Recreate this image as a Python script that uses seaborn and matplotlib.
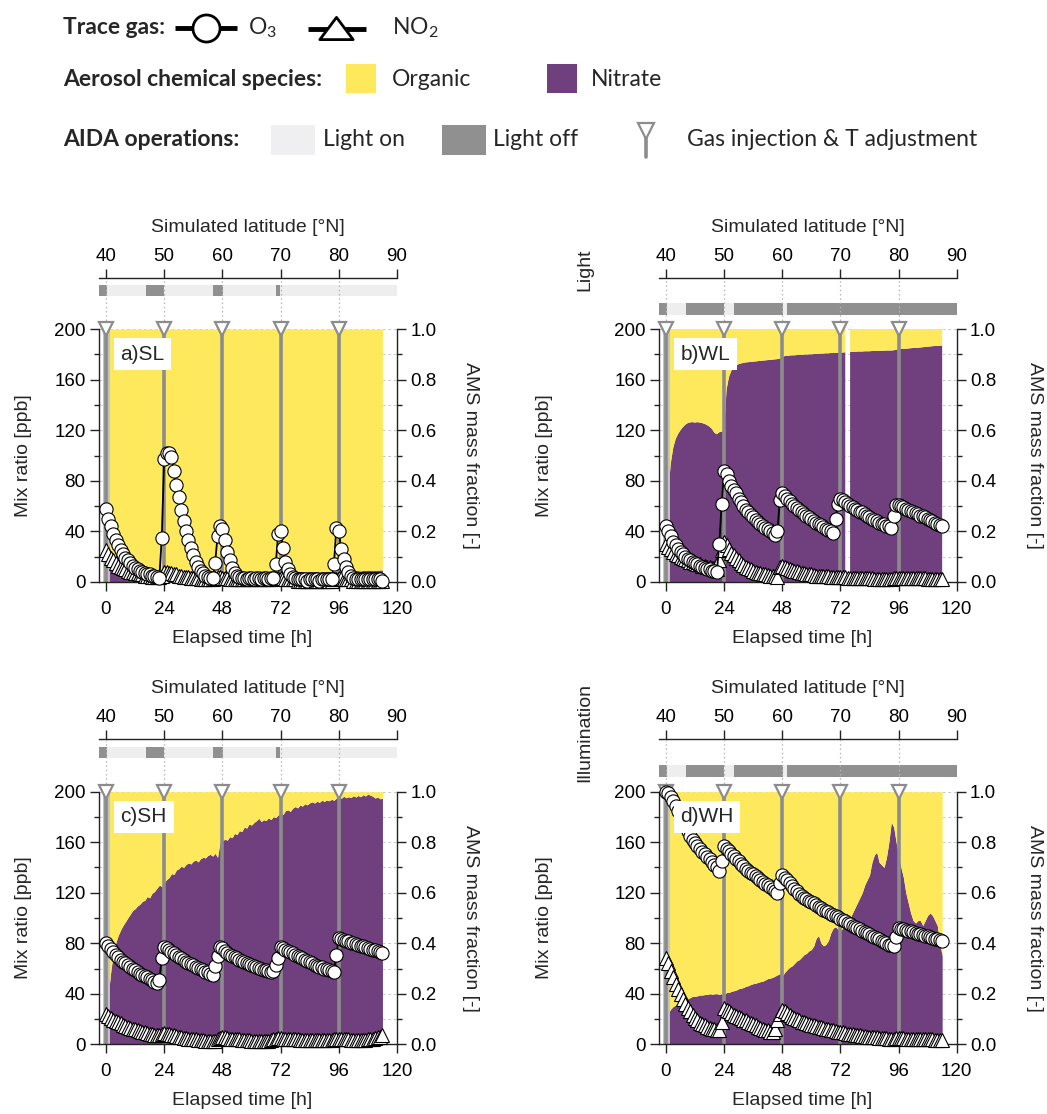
import numpy as np
import matplotlib
matplotlib.use("Agg")
import matplotlib.pyplot as plt
import seaborn as sns
from matplotlib.patches import Rectangle
from matplotlib.ticker import MultipleLocator, FormatStrFormatter
from matplotlib.path import Path

# ---------------------------------------------------------------- data
# hourly trace-gas records (elapsed time 0 ... 114 h)
t_gas = list(range(0, 115))

o3_SL = [58, 50, 44, 38, 33, 29, 25, 22, 19, 17, 15, 13, 11, 10, 9, 8, 7, 6, 6, 5, 5, 4, 3,
         35, 97, 102, 102, 99, 88, 77, 67, 57, 48, 40, 33, 27, 21, 16, 12, 9, 7, 5, 4, 3, 3,
         15, 36, 44, 42, 33, 24, 17, 11, 7, 5, 4, 3,
         3, 2, 3, 3, 2, 3, 3, 2, 3, 3, 2, 3, 3,
         14, 38, 40, 27, 16, 10, 6, 4, 3,
         2, 2, 2, 2, 1, 2, 2, 2, 2, 1, 2, 2, 2, 2, 2,
         14, 43, 40, 26, 18, 12, 8, 5, 3,
         2, 2, 2, 2, 2, 2, 2, 2, 2, 2, 2, 1]
no2_SL = [25, 22, 19, 17, 15, 13, 12, 11, 10, 9,
          8, 8, 7, 7, 6, 6, 5, 5, 5, 4,
          4, 4, 4, 5, 8, 8, 7, 7, 6, 6,
          5, 5, 4, 4, 4, 3, 3, 3, 3, 2,
          2, 2, 2, 2, 2, 3, 4, 4, 3, 3,
          3, 2, 2, 2, 2, 2, 2, 2, 2, 2,
          2, 2, 2, 2, 2, 2, 2, 2, 2, 2,
          3, 3, 3, 3, 2, 2, 2, 2, 2, 1,
          1, 1, 1, 1, 1, 1, 1, 1, 1, 1,
          1, 1, 1, 1, 2, 2, 3, 3, 2, 2,
          2, 2, 1, 1, 1, 1, 1, 1, 1, 1,
          1, 1, 1, 1, 1]

o3_WL = [44, 40, 36, 32, 29, 26, 24, 22, 20, 18,
         17, 16, 15, 14, 13, 12, 11, 10, 10, 9,
         8.5, 8, 30, 62, 88, 85, 80, 76, 73, 70,
         66, 63, 60, 57, 55, 53, 51, 49, 47.5, 46,
         44.5, 43, 42, 40.5, 39, 37, 40, 65, 70, 68,
         66, 64, 62, 60, 58.5, 57, 55.5, 54, 52.5, 51,
         50, 48.5, 47, 46, 45, 43.5, 42, 41, 40, 39,
         50, 62, 66, 65, 63, 61.5, 60, 59, 58, 57,
         55.5, 55, 54, 52.5, 51, 50, 49, 48, 47, 46,
         45.5, 44.5, 44, 43, 52, 61, 61, 60, 59, 58,
         57, 56.5, 55.5, 54.5, 53.5, 52.5, 52, 51, 50, 49,
         48, 47, 46, 45, 44]
no2_WL = [30, 28, 26, 24, 22, 21, 20, 19, 18, 17,
          16, 15.5, 15, 14, 14, 13, 13, 12, 12, 11,
          11, 10, 17, 25, 32, 29, 26, 23, 21, 19,
          17, 15, 13.5, 12, 11, 10, 9, 8, 7.5, 7,
          6.5, 6, 5.5, 5, 5, 4.5, 4, 12, 13, 12,
          11, 10, 9.5, 9, 8.5, 8, 7.5, 7, 6.5, 6,
          6, 5.5, 5, 5, 5, 4.5, 4.5, 4.5, 4, 4,
          4, 4, 4, 4, 4, 3.5, 3.5, 3.5, 3.5, 3,
          3, 3, 3, 3, 3, 3, 2.5, 2.5, 2.5, 2.5,
          2.5, 2.5, 2.5, 2.5, 3, 3, 3.5, 3.5, 3.5, 3.5,
          3, 3, 3, 3, 3, 3, 3, 3, 2.5, 2.5,
          2.5, 2.5, 2.5, 2.5, 2.5]

o3_SH = [80, 78, 75.5, 73, 71, 69, 67, 65.5, 64, 62.5,
         61, 59.5, 58.5, 57.5, 56, 55, 54, 53, 52, 51,
         49.5, 48.5, 51, 68, 77, 76, 75, 73, 72, 70.5,
         69, 68, 66.5, 65.5, 64.5, 63.5, 62.5, 61.5, 60.5, 59.5,
         58.5, 57.5, 57, 56, 55, 62, 70, 77, 76, 74,
         72.5, 71, 70, 69, 68, 67, 66, 65, 64, 63.5,
         63, 62, 61, 60.5, 60, 59, 58.5, 58, 57.5, 58,
         63, 68, 77, 76, 75, 74, 73, 72, 71, 70,
         69, 68, 67, 66, 65, 64, 63, 62, 61.5, 61,
         60, 59.5, 58.5, 58, 57.5, 71, 84, 83.5, 82.5, 82,
         81.5, 80.5, 80, 79.5, 79, 78, 77.5, 77, 76, 75.5,
         75, 74.5, 73.5, 73, 72.5]
no2_SH = [24, 22.5, 21, 19.5, 18.5, 17.5, 16.5, 15.5, 14.5, 14,
          13, 12.5, 12, 11, 10.5, 10, 9.5, 9, 8.5, 8,
          7.5, 7, 7, 8, 9, 8.5, 8, 7.5, 7, 6.5,
          6, 5.5, 5, 5, 4.5, 4, 4, 4, 3.5, 3.5,
          3.5, 3, 3, 3, 3, 3, 4, 5, 6, 5.5,
          5, 4.5, 4.5, 4, 4, 4, 3.5, 3.5, 3.5, 3.5,
          3, 3, 3, 3, 3, 3, 3, 3, 3.5, 4,
          4.5, 5, 5, 4.5, 4.5, 4, 4, 4, 4, 4,
          3.5, 3.5, 3.5, 3.5, 3.5, 3.5, 3.5, 3.5, 3.5, 3.5,
          3.5, 3.5, 3.5, 3.5, 4, 4.5, 4.5, 4.5, 4, 4,
          4, 3.5, 3.5, 3.5, 3.5, 3.5, 3.5, 3.5, 4, 4,
          4.5, 5, 5.5, 6, 7]

o3_WH = [200, 199, 196, 193, 189, 185, 181, 177, 173, 169,
         165, 162, 159, 157, 155, 152.5, 150.5, 148.5, 146.5, 144.5,
         142, 140, 137, 145, 157, 155, 153, 151, 149, 147,
         145, 143, 141, 139, 137.5, 136, 134.5, 133, 131.5, 130,
         128.5, 127, 126, 124.5, 123, 121.5, 120, 128, 134, 132,
         130, 127.5, 125, 123, 121, 119, 117.5, 116, 115, 113.5,
         112.5, 111.5, 110, 109, 108, 106.5, 105.5, 104.5, 103.5, 102.5,
         101.5, 100.5, 99.5, 98.5, 97.5, 96, 95, 94, 93, 92,
         91, 90, 89, 88, 87, 86, 85, 84, 83, 82,
         81, 80, 79, 78.5, 78, 85, 92, 91.5, 91, 90.5,
         90, 89.5, 89, 88, 87.5, 87, 86.5, 86, 85.5, 85,
         84.5, 83.5, 83, 82.5, 82]
no2_WH = [68, 64, 58, 53, 48, 44, 40, 36, 32, 29,
          26, 23, 21, 19, 17, 16, 15, 14, 13, 12.5,
          12, 11.5, 11, 18, 28.5, 27, 26, 24.5, 23.5, 22.5,
          21.5, 20.5, 19.5, 19, 18, 17, 16, 15, 14, 13,
          12.5, 11.5, 11, 10, 9.5, 12.5, 19, 24, 27, 26,
          24.5, 23, 22, 21, 20, 19, 18, 17.5, 16.5, 16,
          15.5, 15, 14.5, 14, 13.5, 13, 12.5, 12, 11.5, 11,
          10.5, 10, 9.5, 9.5, 9, 8.5, 8.5, 8, 7.5, 7,
          7, 6.5, 6.5, 6, 6, 5.5, 5.5, 5.5, 5, 5,
          5, 5, 4.5, 4.5, 4.5, 5, 5, 5, 5, 4.5,
          4.5, 4.5, 4.5, 4.5, 4, 4, 4, 4, 4, 4,
          4, 3.5, 3.5, 3.5, 3.5]

# hourly AMS nitrate mass fraction (elapsed time 1 ... 114 h); organic = remainder
t_ams = list(range(1, 115))
nan = float("nan")
nit_SL = [0.080, 0.072, 0.065, 0.060, 0.056, 0.052, 0.050, 0.048, 0.046, 0.045,
          0.044, 0.043, 0.042, 0.041, 0.040, 0.040, 0.039, 0.039, 0.038, 0.038,
          0.037, 0.037, 0.036, 0.040, 0.044, 0.043, 0.045, 0.044, 0.043, 0.045,
          0.044, 0.042, 0.043, 0.045, 0.044, 0.043, 0.042, 0.044, 0.043, 0.041,
          0.042, 0.043, 0.041, 0.042, 0.040, 0.041, 0.043, 0.044, 0.042, 0.041,
          0.040, 0.041, 0.042, 0.040, 0.039, 0.041, 0.040, 0.042, 0.041, 0.040,
          0.039, 0.041, 0.040, 0.042, 0.041, 0.040, 0.041, 0.039, 0.040, 0.041,
          0.043, 0.045, 0.044, 0.046, 0.045, 0.044, 0.043, 0.042, 0.041, 0.042,
          0.041, 0.040, 0.042, 0.041, 0.040, 0.041, 0.042, 0.040, 0.041, 0.040,
          0.041, 0.042, 0.040, 0.041, 0.043, 0.045, 0.044, 0.043, 0.044, 0.045,
          0.044, 0.045, 0.046, 0.045, 0.044, 0.046, 0.045, 0.047, 0.046, 0.045,
          0.047, 0.046, 0.048, 0.047]
nit_WL = [0.36, 0.47, 0.53, 0.565, 0.585, 0.600, 0.612, 0.622, 0.628, 0.631,
          0.632, 0.630, 0.632, 0.630, 0.628, 0.625, 0.620, 0.614, 0.605, 0.590,
          0.584, 0.592, 0.594, 0.600, 0.760, 0.810, 0.835, 0.848, 0.856, 0.861,
          0.864, 0.866, 0.868, 0.869, 0.870, 0.871, 0.872, 0.873, 0.874, 0.875,
          0.876, 0.877, 0.878, 0.879, 0.880, 0.881, 0.883, 0.888, 0.893, 0.894,
          0.895, 0.896, 0.896, 0.897, 0.898, 0.898, 0.899, 0.899, 0.900, 0.900,
          0.901, 0.902, 0.902, 0.903, 0.903, 0.904, 0.904, 0.905, 0.905, 0.906,
          0.906, 0.907, 0.907, 0.908, nan, 0.909, 0.910, 0.910, 0.911, 0.911,
          0.911, 0.912, 0.912, 0.912, 0.913, 0.913, 0.913, 0.914, 0.914, 0.914,
          0.915, 0.915, 0.915, 0.916, 0.918, 0.920, 0.921, 0.922, 0.922, 0.923,
          0.924, 0.925, 0.926, 0.926, 0.927, 0.928, 0.929, 0.930, 0.931, 0.932,
          0.933, 0.933, 0.934, 0.935]
nit_SH = [0.20, 0.29, 0.36, 0.40, 0.43, 0.452, 0.47, 0.485, 0.50, 0.515,
          0.53, 0.537, 0.548, 0.555, 0.566, 0.57, 0.585, 0.58, 0.598, 0.605,
          0.618, 0.63, 0.625, 0.64, 0.652, 0.66, 0.676, 0.672, 0.69, 0.695,
          0.705, 0.70, 0.712, 0.718, 0.714, 0.725, 0.73, 0.722, 0.735, 0.74,
          0.738, 0.748, 0.752, 0.745, 0.756, 0.74, 0.80, 0.805, 0.812, 0.808,
          0.822, 0.818, 0.835, 0.83, 0.846, 0.842, 0.86, 0.856, 0.872, 0.868,
          0.878, 0.885, 0.895, 0.882, 0.889, 0.886, 0.896, 0.89, 0.901, 0.898,
          0.908, 0.914, 0.91, 0.925, 0.928, 0.922, 0.935, 0.941, 0.936, 0.947,
          0.943, 0.952, 0.948, 0.956, 0.96, 0.955, 0.962, 0.958, 0.966, 0.962,
          0.967, 0.964, 0.97, 0.966, 0.975, 0.98, 0.974, 0.982, 0.976, 0.98,
          0.977, 0.984, 0.979, 0.985, 0.98, 0.988, 0.983, 0.991, 0.986, 0.982,
          0.975, 0.979, 0.972, 0.974]
nit_WH = [0.125, 0.14, 0.15, 0.155, 0.16, 0.165, 0.17, 0.175, 0.18, 0.185,
          0.19, 0.19, 0.192, 0.195, 0.195, 0.197, 0.197, 0.2, 0.198, 0.2,
          0.2, 0.198, 0.2, 0.196, 0.205, 0.205, 0.21, 0.212, 0.215, 0.22,
          0.222, 0.225, 0.23, 0.232, 0.237, 0.24, 0.242, 0.245, 0.248, 0.25,
          0.255, 0.26, 0.262, 0.265, 0.27, 0.275, 0.28, 0.27, 0.285, 0.295,
          0.305, 0.31, 0.32, 0.33, 0.335, 0.345, 0.355, 0.36, 0.37, 0.375,
          0.39, 0.42, 0.43, 0.40, 0.39, 0.395, 0.41, 0.44, 0.46, 0.465,
          0.455, 0.45, 0.46, 0.48, 0.49, 0.50, 0.52, 0.54, 0.56, 0.58,
          0.60, 0.63, 0.65, 0.67, 0.72, 0.75, 0.76, 0.72, 0.71, 0.70,
          0.74, 0.80, 0.88, 0.86, 0.80, 0.75, 0.70, 0.66, 0.60, 0.56,
          0.52, 0.49, 0.48, 0.49, 0.49, 0.47, 0.49, 0.51, 0.52, 0.51,
          0.49, 0.47, 0.40, 0.35]

# gas injection / temperature adjustment times [h]
injections = [0, 24, 48, 72, 96]

# chamber light schedule: (start h, end h, light on?)
light_summer = [(-3, 0.5, False), (0.5, 16.5, True), (16.5, 24, False), (24, 44.3, True),
                (44.3, 48.2, False), (48.2, 70, True), (70, 71.8, False), (71.8, 120, True)]
light_winter = [(-3, 0.3, False), (0.3, 8.2, True), (8.2, 24, False), (24, 28.2, True),
                (28.2, 48.1, False), (48.1, 50, True), (50, 120, False)]

time_ticks = [0, 24, 48, 72, 96, 120]
lat_labels = [40, 50, 60, 70, 80, 90]
panel_names = ["a)SL", "b)WL", "c)SH", "d)WH"]

# ---------------------------------------------------------------- style
sns.set_style("ticks")
plt.rcParams["font.family"] = ["Liberation Sans", "DejaVu Sans"]
plt.rcParams["mathtext.fontset"] = "custom"
plt.rcParams["mathtext.rm"] = "Lato"
plt.rcParams["axes.linewidth"] = 1.0

YELLOW = "#FDE95B"
PURPLE = "#6F3F7E"
GRAY = "#8C8C8C"
DARK_BAR = "#909090"
LIGHT_BAR = "#EEEEEE"
SPINE = "#222222"

W, H = 1047, 1114
fig = plt.figure(figsize=(W / 100, H / 100), dpi=100)


def fx(px):
    return px / W


def fy(py):
    return 1 - py / H


# panel geometry in pixels: left, right, top(200 ppb), bottom(0 ppb),
# latitude spine y, light bar top/bottom, axis-label x positions
geoms = {
    "SL": dict(L=98.7, R=397, T=329, B=582, lat=278, bt=285, bb=296, ylab=32, rlab=470),
    "WL": dict(L=658.7, R=956.7, T=329, B=582, lat=278, bt=303, bb=315, ylab=553, rlab=1035),
    "SH": dict(L=98.7, R=397, T=791.7, B=1044.3, lat=739.3, bt=747, bb=758, ylab=32, rlab=470),
    "WH": dict(L=658.7, R=956.7, T=791.7, B=1044.3, lat=739.3, bt=765, bb=777, ylab=553, rlab=1035),
}

series = {
    "SL": (o3_SL, no2_SL, nit_SL, light_summer),
    "WL": (o3_WL, no2_WL, nit_WL, light_winter),
    "SH": (o3_SH, no2_SH, nit_SH, light_summer),
    "WH": (o3_WH, no2_WH, nit_WH, light_winter),
}

TICK_FS = 13.5
LABEL_FS = 14


def draw_panel(key, name):
    g = geoms[key]
    o3, no2, nit, light = series[key]
    L, R, T, B = g["L"], g["R"], g["T"], g["B"]
    ax = fig.add_axes([fx(L), fy(B), fx(R - L), (B - T) / H])
    ax2 = ax.twinx()
    ax.set_zorder(ax2.get_zorder() + 1)
    ax.patch.set_visible(False)

    # --- aerosol composition (right axis)
    nit_arr = np.array(nit, dtype=float)
    ax2.fill_between(t_ams, 0, nit_arr, color=PURPLE, lw=0, zorder=1)
    ax2.fill_between(t_ams, nit_arr, 1, color=YELLOW, lw=0, zorder=1)
    ax2.set_ylim(0, 1)
    ax2.yaxis.set_major_locator(MultipleLocator(0.2))
    ax2.yaxis.set_minor_locator(MultipleLocator(0.1))
    ax2.yaxis.set_major_formatter(FormatStrFormatter("%.1f"))
    ax2.grid(axis="y", which="both", ls=(0, (2.5, 2.5)), color="#c9c9c9", lw=0.8)
    ax2.set_axisbelow(True)
    for s in ("top", "left", "bottom"):
        ax2.spines[s].set_visible(False)
    ax2.spines["right"].set_color(SPINE)
    ax2.tick_params(axis="y", which="major", direction="out", length=6.5, width=1,
                    labelsize=TICK_FS, pad=3, colors=SPINE, labelcolor="black")
    ax2.tick_params(axis="y", which="minor", direction="out", length=3.5, width=1,
                    colors=SPINE)
    ax2.set_ylabel("AMS mass fraction [-]", fontsize=LABEL_FS, rotation=270)
    ax2.yaxis.set_label_coords((g["rlab"] - L) / (R - L), 0.5)
    ax2.yaxis.label.set_va("center")

    # --- injection markers
    ax.vlines([injections[0]], 0, 200, colors="#c2c2c2", lw=5, zorder=1.8)
    ax.vlines(injections, 0, 200, colors=GRAY, lw=2.6, zorder=1.9)
    ext = (B - g["lat"]) / (B - T)
    for ti in injections:
        ax.axvline(ti, ymin=1, ymax=ext, ls=(0, (1.2, 2.2)), color="#b5b5b5", lw=0.9,
                   clip_on=False, zorder=0)
    ax.plot(injections, [200] * len(injections), ls="none", marker="v", ms=10.5,
            mfc="white", mec=GRAY, mew=1.6, clip_on=False, zorder=2)

    # --- trace gases (left axis)
    sns.lineplot(x=t_gas, y=no2, ax=ax, estimator=None, sort=False, color="black",
                 lw=1.3, marker="^", ms=9.5, markerfacecolor="white",
                 markeredgecolor="black", markeredgewidth=0.8, zorder=3)
    sns.lineplot(x=t_gas, y=o3, ax=ax, estimator=None, sort=False, color="black",
                 lw=1.3, marker="o", ms=9.5, markerfacecolor="white",
                 markeredgecolor="black", markeredgewidth=0.8, zorder=4)
    for ln in ax.lines:
        ln.set_clip_on(False)

    ax.set_xlim(-3, 120)
    ax.set_ylim(0, 200)
    ax.set_xticks(time_ticks)
    ax.yaxis.set_major_locator(MultipleLocator(40))
    ax.yaxis.set_minor_locator(MultipleLocator(20))
    for s in ("top", "right"):
        ax.spines[s].set_visible(False)
    for s in ("left", "bottom"):
        ax.spines[s].set_color(SPINE)
    ax.tick_params(axis="y", which="major", direction="out", length=6.5, width=1,
                   labelsize=TICK_FS, pad=3, colors=SPINE, labelcolor="black")
    ax.tick_params(axis="x", which="major", direction="out", length=6.5, width=1,
                   labelsize=TICK_FS, pad=7, colors=SPINE, labelcolor="black")
    ax.tick_params(axis="y", which="minor", direction="out", length=3.5, width=1,
                   colors=SPINE)
    ax.set_xlabel("Elapsed time [h]", fontsize=LABEL_FS)
    ax.xaxis.set_label_coords(0.48, -48 / (B - T))
    ax.set_ylabel("Mix ratio [ppb]", fontsize=LABEL_FS)
    ax.yaxis.set_label_coords((g["ylab"] - L) / (R - L), 0.5)

    ax.text(0.073, 0.90, name, transform=ax.transAxes, fontsize=15, va="center",
            ha="left", zorder=10,
            bbox=dict(boxstyle="square,pad=0.32", fc="white", ec="none"))

    # --- light schedule bar
    axb = fig.add_axes([fx(L), fy(g["bb"]), fx(R - L), (g["bb"] - g["bt"]) / H])
    starts = [s for s, e, on in light]
    widths = [e - s for s, e, on in light]
    cols = [LIGHT_BAR if on else DARK_BAR for s, e, on in light]
    axb.bar(starts, [1] * len(light), width=widths, align="edge", color=cols, lw=0)
    axb.set_xlim(-3, 120)
    axb.set_ylim(0, 1)
    axb.axis("off")

    # --- simulated latitude axis
    axl = fig.add_axes([fx(L), fy(g["lat"]), fx(R - L), 0.0001])
    axl.patch.set_visible(False)
    axl.set_xlim(-3, 120)
    axl.set_xticks([(lat - 40) * 2.4 for lat in lat_labels])
    axl.set_xticklabels([str(v) for v in lat_labels])
    axl.xaxis.tick_top()
    axl.set_yticks([])
    for s in ("left", "right", "bottom"):
        axl.spines[s].set_visible(False)
    axl.spines["top"].set_color(SPINE)
    axl.tick_params(axis="x", direction="out", length=6.5, width=1, labelsize=TICK_FS,
                    pad=3, colors=SPINE, labelcolor="black")
    fig.text(fx((L + R) / 2), fy(g["lat"] - 51), "Simulated latitude [°N]",
             fontsize=LABEL_FS, ha="center", va="center")
    return ax


for key, name in zip(["SL", "WL", "SH", "WH"], panel_names):
    draw_panel(key, name)

fig.text(fx(585), fy(270), "Light", rotation=90, fontsize=LABEL_FS, ha="center", va="center")
fig.text(fx(585), fy(733), "Illumination", rotation=90, fontsize=LABEL_FS,
         ha="center", va="center")

# ---------------------------------------------------------------- key
axk = fig.add_axes([0, fy(185), 1, 185 / H])
axk.set_xlim(0, W)
axk.set_ylim(185, 0)
axk.axis("off")
KEY_FONT = ["Lato", "DejaVu Sans"]
KFS = 16.5

axk.text(63, 28, "Trace gas:", fontsize=KFS, fontweight="bold", family=KEY_FONT,
         va="center", ha="left")
axk.plot([175, 237], [28, 28], color="black", lw=3.5, solid_capstyle="butt")
axk.plot([206], [28], marker="o", ms=19.5, mfc="white", mec="black", mew=2)
axk.text(248, 28, "O$_3$", fontsize=KFS, family=KEY_FONT, va="center", ha="left")
tri = Path([(-1.5, -1), (1.5, -1), (0, 1), (-1.5, -1)],
           [Path.MOVETO, Path.LINETO, Path.LINETO, Path.CLOSEPOLY])
axk.plot([308, 366], [29, 29], color="black", lw=3.5, solid_capstyle="butt")
axk.plot([336], [28], marker=tri, ms=24, mfc="white", mec="black", mew=2)
axk.text(392, 28, "NO$_2$", fontsize=KFS, family=KEY_FONT, va="center", ha="left")

axk.text(63, 79, "Aerosol chemical species:", fontsize=KFS, fontweight="bold",
         family=KEY_FONT, va="center", ha="left")
axk.add_patch(Rectangle((346, 64), 30, 29, color=YELLOW, lw=0))
axk.text(392, 79, "Organic", fontsize=KFS, family=KEY_FONT, va="center", ha="left")
axk.add_patch(Rectangle((547, 64), 30, 29, color=PURPLE, lw=0))
axk.text(591, 79, "Nitrate", fontsize=KFS, family=KEY_FONT, va="center", ha="left")

axk.text(63, 140, "AIDA operations:", fontsize=KFS, fontweight="bold", family=KEY_FONT,
         va="center", ha="left")
axk.add_patch(Rectangle((271, 125), 44, 30, color="#EFEFF1", lw=0))
axk.text(323, 140, "Light on", fontsize=KFS, family=KEY_FONT, va="center", ha="left")
axk.add_patch(Rectangle((442, 125), 44, 30, color=DARK_BAR, lw=0))
axk.text(493, 140, "Light off", fontsize=KFS, family=KEY_FONT, va="center", ha="left")
axk.plot([646, 646], [131, 157], color=GRAY, lw=2.6)
axk.plot([646], [131], marker="v", ms=11, mfc="white", mec=GRAY, mew=1.6)
axk.text(687, 140, "Gas injection & T adjustment", fontsize=KFS, family=KEY_FONT,
         va="center", ha="left")

fig.savefig("out.png", dpi=100)
